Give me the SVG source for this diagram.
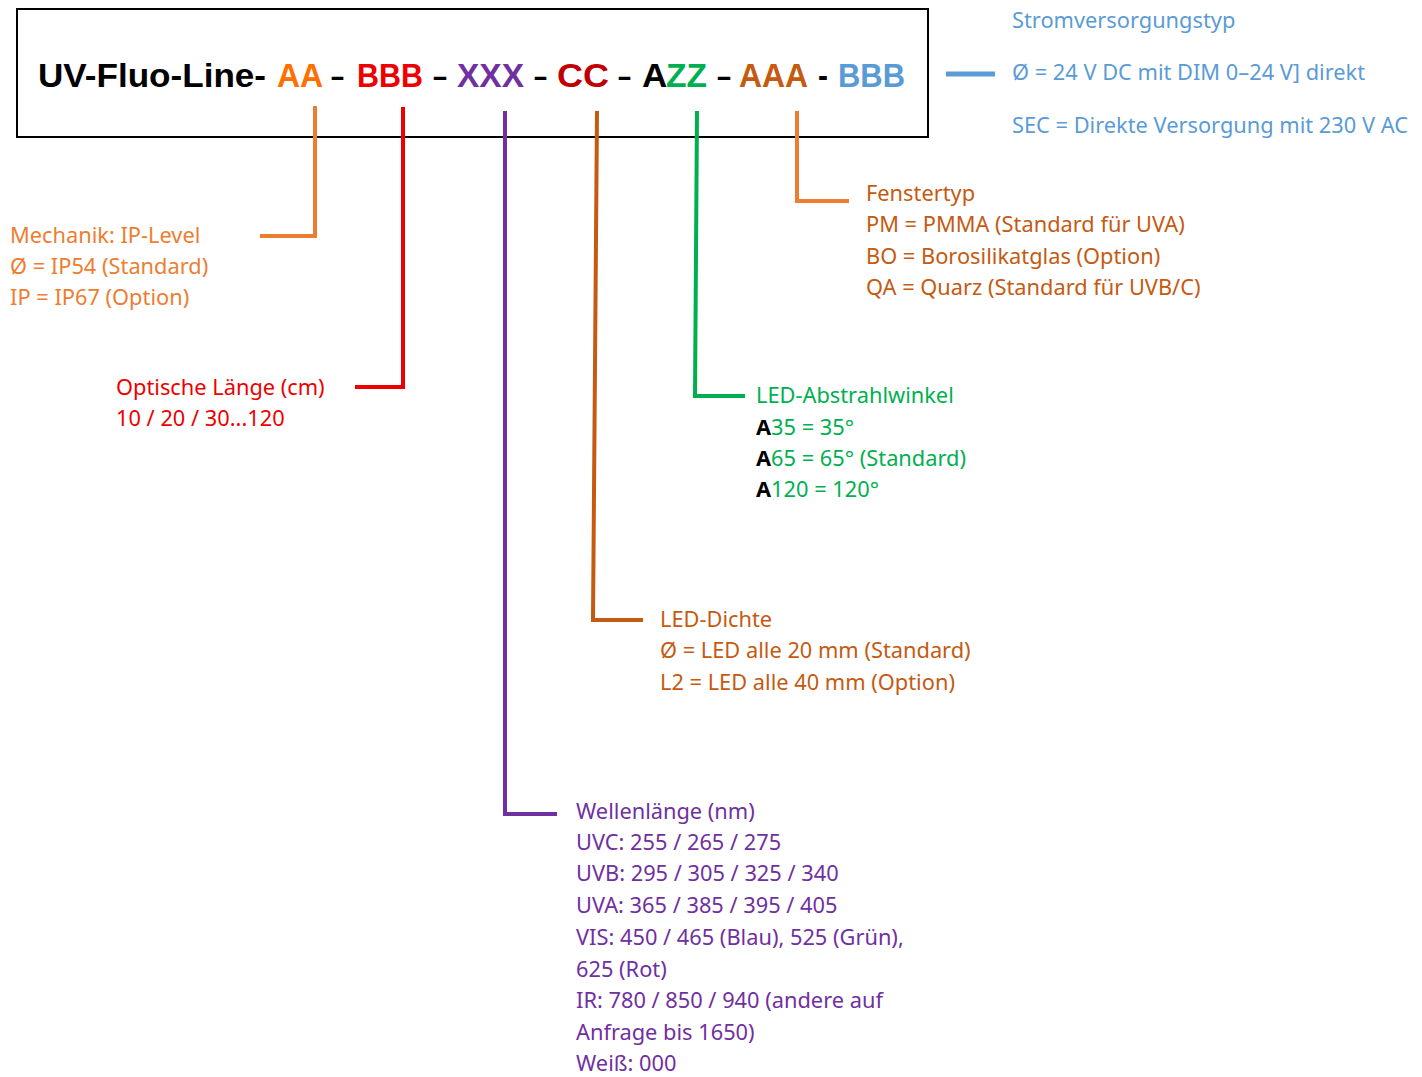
<svg xmlns="http://www.w3.org/2000/svg" width="1422" height="1077" viewBox="0 0 1422 1077">
<style>
.t{font-family:"Liberation Sans",Arial,sans-serif;font-weight:bold;font-size:33px}
.b{font-family:"Noto Sans","Open Sans",sans-serif;font-size:21.8px}
.c{fill:none;stroke-width:4;stroke-linejoin:miter}
.or{fill:#ED7D31}.rd{fill:#EE0000}.pu{fill:#7030A0}.br{fill:#C55A11}.gr{fill:#00B050}.bl{fill:#5B9BD5}
</style>
<rect width="1422" height="1077" fill="#fff"/>
<g id="title">
<rect x="17" y="9" width="911" height="128" fill="#fff" stroke="#000" stroke-width="2"/>
<text class="t" y="87">
<tspan x="38" textLength="228" lengthAdjust="spacingAndGlyphs" fill="#000">UV-Fluo-Line-</tspan>
<tspan x="277" textLength="45" lengthAdjust="spacingAndGlyphs" fill="#FF6F00">AA</tspan>
<tspan x="331" textLength="13" lengthAdjust="spacingAndGlyphs" fill="#000">–</tspan>
<tspan x="357" textLength="66" lengthAdjust="spacingAndGlyphs" fill="#EE0000">BBB</tspan>
<tspan x="433" textLength="14" lengthAdjust="spacingAndGlyphs" fill="#000">–</tspan>
<tspan x="457" textLength="67" lengthAdjust="spacingAndGlyphs" fill="#7030A0">XXX</tspan>
<tspan x="534" textLength="13" lengthAdjust="spacingAndGlyphs" fill="#000">–</tspan>
<tspan x="557" textLength="52" lengthAdjust="spacingAndGlyphs" fill="#C00000">CC</tspan>
<tspan x="618" textLength="13" lengthAdjust="spacingAndGlyphs" fill="#000">–</tspan>
<tspan x="642" textLength="24" lengthAdjust="spacingAndGlyphs" fill="#000">A</tspan>
<tspan x="666" textLength="41" lengthAdjust="spacingAndGlyphs" fill="#00B050">ZZ</tspan>
<tspan x="717" textLength="14" lengthAdjust="spacingAndGlyphs" fill="#000">–</tspan>
<tspan x="739" textLength="68" lengthAdjust="spacingAndGlyphs" fill="#C55A11">AAA</tspan>
<tspan x="818" textLength="10" lengthAdjust="spacingAndGlyphs" fill="#000">-</tspan>
<tspan x="838" textLength="67" lengthAdjust="spacingAndGlyphs" fill="#5B9BD5">BBB</tspan>
</text>
</g>
<g id="connectors">
<polyline class="c" stroke="#ED7D31" points="315,106 315,236 260,236"/>
<polyline class="c" stroke="#EE0000" points="403,107 403,387 355,387"/>
<polyline class="c" stroke="#7030A0" points="505,111 505,814 557,814"/>
<polyline class="c" stroke="#C55A11" points="597,111 593,620 643,620"/>
<polyline class="c" stroke="#00B050" points="697,111 695,396 745,396"/>
<polyline class="c" stroke="#ED7D31" points="797,111 797,201 849,201"/>
<line x1="946" y1="74" x2="995" y2="74" stroke="#5B9BD5" stroke-width="5"/>
</g>
<g id="mechanik" class="b or">
<text x="10" y="243">Mechanik: IP-Level</text>
<text x="10" y="274">Ø = IP54 (Standard)</text>
<text x="10" y="305">IP = IP67 (Option)</text>
</g>
<g id="laenge" class="b rd">
<text x="116" y="395">Optische Länge (cm)</text>
<text x="116" y="426">10 / 20 / 30...120</text>
</g>
<g id="fenster" class="b br">
<text x="866" y="201">Fenstertyp</text>
<text x="866" y="232">PM = PMMA (Standard für UVA)</text>
<text x="866" y="264">BO = Borosilikatglas (Option)</text>
<text x="866" y="295">QA = Quarz (Standard für UVB/C)</text>
</g>
<g id="winkel" class="b gr">
<text x="756" y="403">LED-Abstrahlwinkel</text>
<text x="756" y="435"><tspan fill="#000" font-weight="bold">A</tspan>35 = 35°</text>
<text x="756" y="466"><tspan fill="#000" font-weight="bold">A</tspan>65 = 65° (Standard)</text>
<text x="756" y="497"><tspan fill="#000" font-weight="bold">A</tspan>120 = 120°</text>
</g>
<g id="dichte" class="b br">
<text x="660" y="627">LED-Dichte</text>
<text x="660" y="658">Ø = LED alle 20 mm (Standard)</text>
<text x="660" y="690">L2 = LED alle 40 mm (Option)</text>
</g>
<g id="wellen" class="b pu">
<text x="576" y="819">Wellenlänge (nm)</text>
<text x="576" y="850">UVC: 255 / 265 / 275</text>
<text x="576" y="881">UVB: 295 / 305 / 325 / 340</text>
<text x="576" y="913">UVA: 365 / 385 / 395 / 405</text>
<text x="576" y="945">VIS: 450 / 465 (Blau), 525 (Grün),</text>
<text x="576" y="977">625 (Rot)</text>
<text x="576" y="1008">IR: 780 / 850 / 940 (andere auf</text>
<text x="576" y="1040">Anfrage bis 1650)</text>
<text x="576" y="1071">Weiß: 000</text>
</g>
<g id="strom" class="b bl">
<text x="1012" y="28">Stromversorgungstyp</text>
<text x="1012" y="80">Ø = 24 V DC mit DIM 0–24 V] direkt</text>
<text x="1012" y="133">SEC = Direkte Versorgung mit 230 V AC</text>
</g>
</svg>
